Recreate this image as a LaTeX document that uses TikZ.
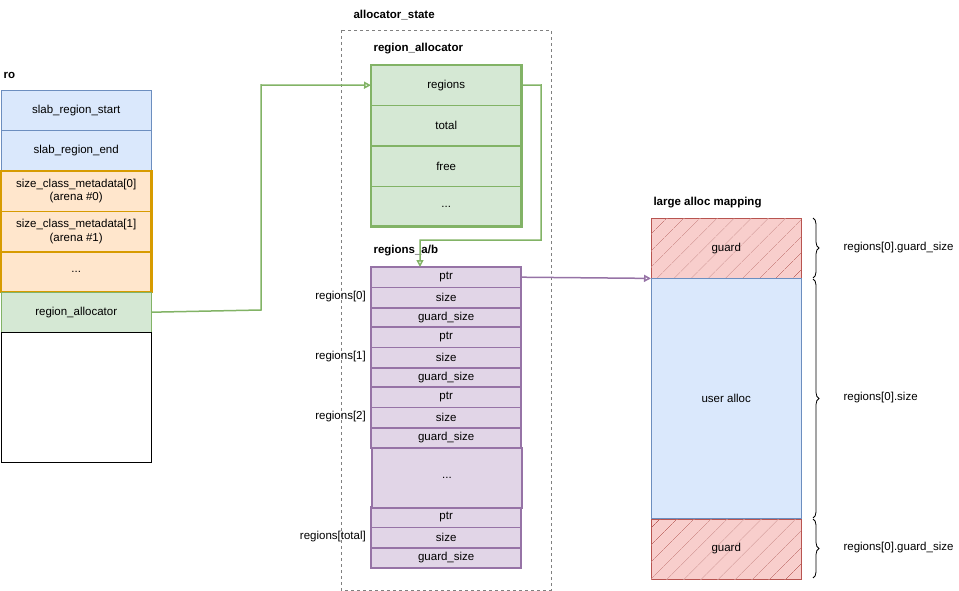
\documentclass[tikz,border=0pt]{standalone}
\usepackage{fontspec}
\setmainfont{Liberation Sans}
\usetikzlibrary{arrows.meta,patterns.meta,decorations.pathreplacing}
\definecolor{bluef}{HTML}{DAE8FC}\definecolor{bluel}{HTML}{6C8EBF}
\definecolor{orf}{HTML}{FFE6CC}\definecolor{orl}{HTML}{D79B00}
\definecolor{grf}{HTML}{D5E8D4}\definecolor{grl}{HTML}{82B366}
\definecolor{puf}{HTML}{E1D5E7}\definecolor{pul}{HTML}{9673A6}
\definecolor{ref}{HTML}{F8CECC}\definecolor{rel}{HTML}{B85450}
\begin{document}
\begin{tikzpicture}[x=1pt,y=-1pt,font=\fontsize{11.5}{13.5}\selectfont,
  title/.style={font=\fontsize{11.5}{13.5}\selectfont\bfseries,anchor=west},
  cell/.style={draw,minimum width=150pt,inner sep=0pt,align=center},
  blu/.style={cell,fill=bluef,draw=bluel},
  org/.style={cell,fill=orf,draw=orl},
  grn/.style={cell,fill=grf,draw=grl},
  pur/.style={cell,fill=puf,draw=pul,minimum height=20pt},
  hatch/.style={cell,draw=rel,fill=ref,minimum height=60pt,
    postaction={pattern={Lines[angle=45,distance=13pt,line width=0.7pt]},pattern color=rel}},
  brc/.style={decorate,decoration={brace,amplitude=6pt},line width=0.8pt},
  wire/.style={line width=1.5pt,-{Triangle[open,length=7pt,width=7pt]}}]
\useasboundingbox (0,0) rectangle (959,591);
% ro
\node[title] (rotitle) at (0,75) {ro};
\node[blu,minimum height=40pt,anchor=north west] (srs) at (1,90) {slab\_region\_start};
\node[blu,minimum height=40pt,anchor=north] (sre) at (srs.south) {slab\_region\_end};
\node[org,minimum height=40pt,anchor=north] (scm0) at (sre.south) {size\_class\_metadata[0]\\(arena \#0)};
\node[org,minimum height=40pt,anchor=north] (scm1) at (scm0.south) {size\_class\_metadata[1]\\(arena \#1)};
\node[org,minimum height=40pt,anchor=north] (scmd) at (scm1.south) {...};
\draw[orl,line width=2.5pt] (scm0.north west) rectangle (scmd.south east);
\node[grn,minimum height=40pt,anchor=north] (ra) at (scmd.south) {region\_allocator};
\node[cell,minimum height=130pt,anchor=north] (rest) at (ra.south) {};
% allocator_state
\draw[dashed,gray] (341,30) rectangle (551,590);
\node[title] at (350,15) {allocator\_state};
\node[title] at (370,49) {region\_allocator};
\node[grn,minimum height=40pt,anchor=north west] (regs) at (371,65) {regions};
\node[grn,minimum height=40pt,anchor=north] (tot) at (regs.south) {total};
\node[grn,minimum height=40pt,anchor=north] (free) at (tot.south) {free};
\node[grn,minimum height=40pt,anchor=north] (radots) at (free.south) {...};
\draw[grl,line width=2.5pt] (regs.north west) rectangle (radots.south east);
\node[title] at (370,251) {regions\_a/b};
\foreach \i/\y/\lab in {0/267/regions[0],1/327/regions[1],2/387/regions[2],3/507/regions[total]}{
  \node[pur,anchor=north west] (ptr\i) at (371,\y) {ptr};
  \node[pur,anchor=north] (size\i) at (ptr\i.south) {size};
  \node[pur,anchor=north] (gs\i) at (size\i.south) {guard\_size};
  \draw[pul,line width=2pt] (ptr\i.north west) rectangle (gs\i.south east);
  \node[anchor=east,inner sep=0pt] at (366,\y+30) {\lab};
}
\node[pur,minimum height=60pt,anchor=north west,line width=2pt] (rdots) at (371,447) {...};
% large alloc mapping
\node[title] at (650,203) {large alloc mapping};
\node[hatch,anchor=north west] (g1) at (651,218) {};
\node at (g1) {guard};
\node[blu,minimum height=240pt,anchor=north] (ua) at (g1.south) {user alloc};
\node[hatch,anchor=north] (g2) at (ua.south) {};
\node at (g2) {guard};
\foreach \a/\b in {218/278,279/518,519/578}
  \draw[brc] (813,\a) -- (813,\b);
\node[anchor=west] at (840,248) {regions[0].guard\_size};
\node[anchor=west] at (840,398) {regions[0].size};
\node[anchor=west] at (840,548) {regions[0].guard\_size};
% connectors
\draw[wire,grl] (ra.east) -- (261,310) -- (261,85) -- (regs.west);
\draw[wire,grl] (regs.east) -- (541,85) -- (541,240) -- (420,240) -- (420,267);
\draw[wire,pul] (ptr0.east) -- (g1.south west);
\end{tikzpicture}
\end{document}
